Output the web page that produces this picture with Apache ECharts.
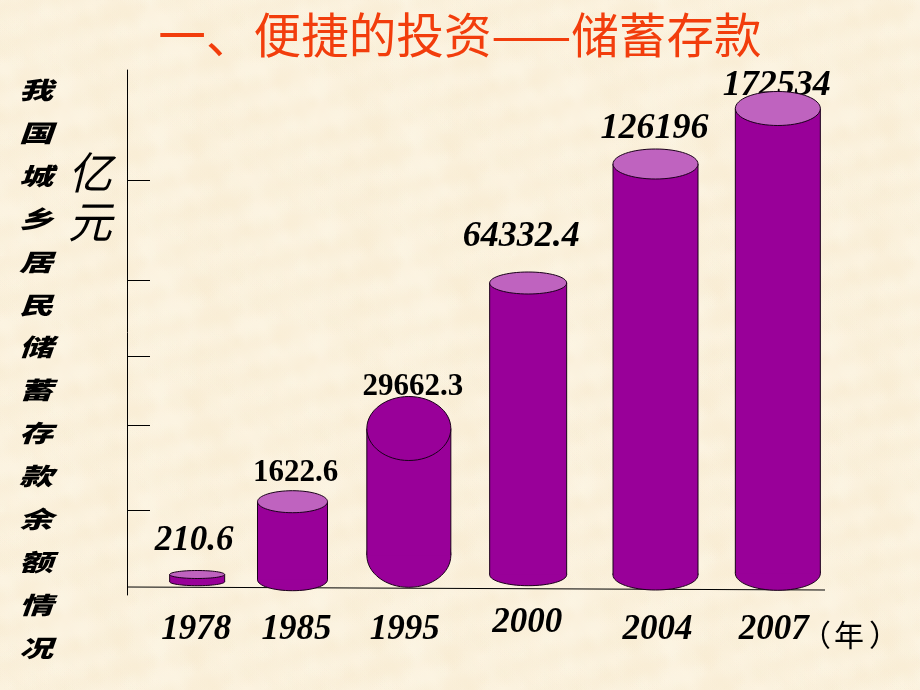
<!DOCTYPE html>
<html><head><meta charset="utf-8">
<style>html,body{margin:0;padding:0;background:#fbf0da}#c{width:920px;height:690px}</style>
<script src="https://cdn.jsdelivr.net/npm/echarts@6/dist/echarts.min.js"></script>
</head><body><div id="c"></div>
<script>
// ---- data ----
const years = ['1978','1985','1995','2000','2004','2007'];
const savings = ['210.6','1622.6','29662.3','64332.4','126196','172534'];
// The source drawing is schematic: cylinder heights are not proportional to the printed values,
// so the drawn levels are read off the picture's unlabelled vertical axis.
const cylinderTops = [20.5, 93.3, 166.5, 312, 431, 486.5];
const cylinderBases = [9.3, 4.3, 7.7, 9.3, 5, 4.7];
const axisTickLevels = [85, 170, 239, 315, 415];
const baselineLevels = [8, 5];
const sideTitle = ['我','国','城','乡','居','民','储','蓄','存','款','余','额','情','况'];

// ---- layout and style ----
const xNudge = [12, -9, -9, -6, 5, 11];
const bodyWidths = [55, 70, 84, 77, 85, 85];
const capRadii = [4, 11, 32, 11, 15, 17];
const capColors = ['#BF63BF','#BF63BF','#990099','#BF63BF','#BF63BF','#BF63BF'];
const valueLabelDx = [9, -6, -5, -13, 4, 10];
const valueLabelLevels = [54, 122, 208, 358, 466, 509];
const valueLabelItalic = [true, false, false, true, true, true];
const valueLabelSizes = [35, 31, 31, 36, 36, 36];
const yearLabelDx = [11, -5, -13, -7, 7, 7];
const yearLabelLevels = [-35, -35, -35, -28, -35, -35];

// parchment background tile, deterministic blotches
function parchment() {
  const s = 256, cv = document.createElement('canvas');
  cv.width = cv.height = s;
  const g = cv.getContext('2d');
  g.fillStyle = '#FBF1DD'; g.fillRect(0, 0, s, s);
  for (let i = 0; i < 260; i++) {
    const x = (i * 0.7548776662 % 1) * s, y = (i * 0.5698402910 % 1) * s;
    const r = 8 + (i * 0.381966 % 1) * 22;
    const c = i % 2 ? '245,230,198' : '255,250,236';
    for (const [dx, dy] of [[0,0],[s,0],[-s,0],[0,s],[0,-s]]) {
      const gr = g.createRadialGradient(x+dx, y+dy, 0, x+dx, y+dy, r);
      gr.addColorStop(0, 'rgba(' + c + ',0.2)');
      gr.addColorStop(1, 'rgba(' + c + ',0)');
      g.fillStyle = gr;
      g.fillRect(x+dx-r, y+dy-r, 2*r, 2*r);
    }
  }
  return cv;
}

const serif = '"Liberation Serif","Times New Roman",serif';
const cjk = '"Noto Sans CJK SC",sans-serif';

function renderCylinder(params, api) {
  const i = params.dataIndex;
  const top = api.coord([i, api.value(1)]);
  const base = api.coord([i, api.value(2)]);
  const cx = top[0] + xNudge[i], rx = bodyWidths[i] / 2, ry = capRadii[i];
  const sideBottom = base[1] - ry;
  const line = { stroke: '#1a001a', lineWidth: 1 };
  return { type: 'group', children: [
    { type: 'ellipse', shape: { cx, cy: sideBottom, rx, ry }, style: { fill: '#990099', ...line } },
    { type: 'rect', shape: { x: cx - rx, y: top[1], width: 2 * rx, height: sideBottom - top[1] }, style: { fill: '#990099' } },
    { type: 'line', shape: { x1: cx - rx, y1: top[1], x2: cx - rx, y2: sideBottom }, style: line },
    { type: 'line', shape: { x1: cx + rx, y1: top[1], x2: cx + rx, y2: sideBottom }, style: line },
    { type: 'ellipse', shape: { cx, cy: top[1], rx, ry }, style: { fill: capColors[i], ...line } }
  ]};
}

function renderLabels(params, api) {
  const i = params.dataIndex;
  const v = api.coord([i, valueLabelLevels[i]]);
  const y = api.coord([i, yearLabelLevels[i]]);
  return { type: 'group', children: [
    { type: 'text', style: { text: savings[i], x: v[0] + valueLabelDx[i], y: v[1], fill: '#000',
        textAlign: 'center', textVerticalAlign: 'middle',
        font: (valueLabelItalic[i] ? 'italic ' : '') + 'bold ' + valueLabelSizes[i] + 'px ' + serif } },
    { type: 'text', style: { text: years[i], x: y[0] + yearLabelDx[i], y: y[1], fill: '#000',
        textAlign: 'center', textVerticalAlign: 'middle', font: 'italic bold 35px ' + serif } }
  ]};
}

const rows = years.map((y, i) => [y, cylinderTops[i], cylinderBases[i]]);

const chart = echarts.init(document.getElementById('c'), null, { renderer: 'canvas', width: 920, height: 690 });
chart.setOption({
  animation: false,
  backgroundColor: { image: parchment(), repeat: 'repeat' },
  grid: { left: 127, right: 95, top: 70, bottom: 95 },
  xAxis: [
    { type: 'category', data: years, axisLine: { show: false }, axisTick: { show: false }, axisLabel: { show: false }, splitLine: { show: false } },
    { type: 'value', min: 0, max: 1, show: false, splitLine: { show: false } }
  ],
  yAxis: {
    type: 'value', min: 0, max: 525,
    axisLine: { show: true, lineStyle: { color: '#000', width: 1 } },
    axisTick: { show: true, inside: true, length: 23, customValues: axisTickLevels, lineStyle: { color: '#000', width: 1 } },
    axisLabel: { show: false }, splitLine: { show: false }
  },
  graphic: [
    { type: 'text', x: 460, y: 35, style: { text: '一、便捷的投资——储蓄存款', fill: '#F23D0C',
        textAlign: 'center', textVerticalAlign: 'middle', font: '400 47.6px ' + cjk } },
    { type: 'text', x: 90, y: 172, style: { text: '亿', fill: '#000', textAlign: 'center', textVerticalAlign: 'middle', font: 'italic 400 44px ' + cjk } },
    { type: 'text', x: 90, y: 221, style: { text: '元', fill: '#000', textAlign: 'center', textVerticalAlign: 'middle', font: 'italic 400 44px ' + cjk } },
    { type: 'text', x: 816, y: 635, style: { text: '（', fill: '#000', textAlign: 'center', textVerticalAlign: 'middle', font: '400 30px ' + cjk } },
    { type: 'text', x: 849, y: 635, style: { text: '年', fill: '#000', textAlign: 'center', textVerticalAlign: 'middle', font: '400 30px ' + cjk } },
    { type: 'text', x: 884, y: 635, style: { text: '）', fill: '#000', textAlign: 'center', textVerticalAlign: 'middle', font: '400 30px ' + cjk } }
  ].concat(sideTitle.map((ch, i) => ({
    type: 'text', x: 36, y: 90 + i * 42.9, scaleY: 0.7,
    style: { text: ch, fill: '#000', textAlign: 'center', textVerticalAlign: 'middle', font: 'italic 900 34px ' + cjk }
  }))),
  series: [
    { type: 'line', xAxisIndex: 1, z: 1, symbol: 'none', silent: true,
      lineStyle: { color: '#000', width: 1 }, data: [[0, baselineLevels[0]], [1, baselineLevels[1]]] },
    { type: 'custom', z: 2, renderItem: renderLabels, data: rows, encode: { x: 0, y: 1 }, clip: false, silent: true },
    { type: 'custom', z: 3, renderItem: renderCylinder, data: rows, encode: { x: 0, y: 1 }, clip: false, silent: true }
  ]
});
</script></body></html>
